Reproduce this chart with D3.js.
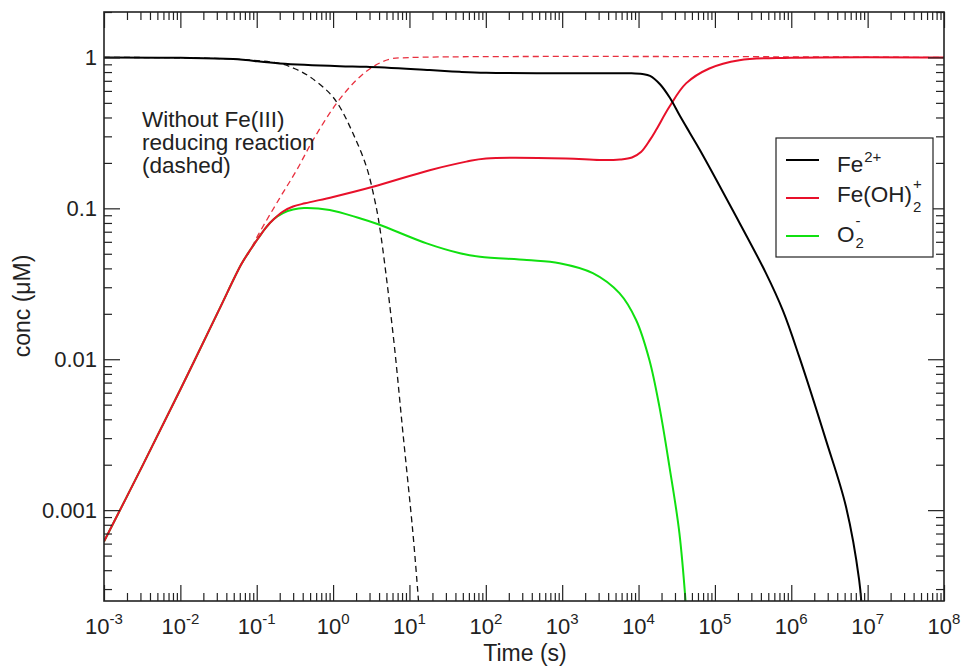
<!DOCTYPE html>
<html><head><meta charset="utf-8">
<script src="https://cdn.jsdelivr.net/npm/d3@7"></script>
<style>
html,body{margin:0;padding:0;background:#fff;}
svg{display:block;font-family:"Liberation Sans",Arial,Helvetica,sans-serif;}
</style></head><body>
<svg id="chart" width="962" height="666"></svg>
<script>
// ---------- data ----------
const xMajorTicks = [1e-3,1e-2,1e-1,1e0,1e1,1e2,1e3,1e4,1e5,1e6,1e7,1e8];
const xTickExponents = ["-3","-2","-1","0","1","2","3","4","5","6","7","8"];
const yMajorTicks = [0.001,0.01,0.1,1];
const yTickLabels = ["0.001","0.01","0.1","1"];

// Fe2+ (black solid)
const fe2Time = [0.001,0.01,0.049,0.2,1.22,2.73,18.4,45.4,101,1000,7940,11200,14130,19100,25820,34910,47210,63830,170600,465600,780000,1.27e6,2.84e6,5.19e6,7.74e6,8.5e6];
const fe2Conc = [1.0,0.995,0.975,0.912,0.875,0.867,0.824,0.803,0.791,0.785,0.785,0.776,0.755,0.664,0.538,0.409,0.315,0.243,0.0975,0.0372,0.0209,0.0104,0.00292,0.00106,3.45e-4,2.0e-4];

// Fe(OH)2+ (red solid)
const feohTime = [0.001,0.00316,0.01,0.0316,0.063,0.0817,0.104,0.132,0.168,0.221,0.299,0.429,1.0,3.33,18.4,55.5,101,1120,3090,5710,8200,10770,14120,16940,25350,41880,84530,208900,1e6,1e8];
const feohConc = [6.2e-4,1.95e-3,6.3e-3,0.0209,0.0427,0.0527,0.0631,0.0746,0.0849,0.0953,0.1028,0.108,0.119,0.139,0.179,0.204,0.214,0.214,0.209,0.2106,0.2172,0.236,0.284,0.33,0.471,0.673,0.845,0.959,0.995,1.0];

// O2- (green solid)
const o2Time = [0.001,0.00316,0.01,0.0316,0.063,0.0817,0.104,0.132,0.168,0.221,0.299,0.416,0.904,2.24,3.89,16.8,45.9,83.9,344,923,2520,5620,9290,13870,18750,25350,34280,42660];
const o2Conc = [6.2e-4,1.95e-3,6.3e-3,0.0209,0.0427,0.0527,0.0631,0.0746,0.0849,0.0931,0.0982,0.1005,0.0975,0.0859,0.0785,0.0586,0.0504,0.0478,0.0454,0.0433,0.0372,0.0274,0.0182,0.00989,0.00485,0.00195,7.05e-4,2.0e-4];

// Without Fe(III) reducing reaction (dashed)
const fe2NoRedTime = [0.001,0.049,0.2,0.316,0.495,0.904,1.22,1.82,2.73,3.51,4.07,6.08,8.22,11.1,12.9,13.8];
const fe2NoRedConc = [1.0,0.975,0.912,0.841,0.745,0.578,0.471,0.314,0.189,0.1135,0.0755,0.0149,0.00324,7.05e-4,2.82e-4,1.78e-4];
const feohNoRedTime = [0.001,0.00316,0.01,0.0316,0.063,0.0817,0.104,0.2,0.331,0.55,1.107,2.02,3.33,5.51,10,1e8];
const feohNoRedConc = [6.2e-4,1.95e-3,6.3e-3,0.0209,0.0427,0.0527,0.0664,0.117,0.178,0.285,0.495,0.708,0.867,0.973,0.998,1.0];

const annotationLines = ["Without Fe(III)","reducing reaction","(dashed)"];

// ---------- layout ----------
const L=104, R=944, T=12, B=601;
const svg = d3.select("#chart");
const x = d3.scaleLog().domain([1e-3,1e8]).range([L,R]);
const y = d3.scaleLog().domain([2.5e-4,2]).range([B,T]);

function minorTicks(lo, hi){
  const out=[];
  for(let e=Math.floor(Math.log10(lo)); e<=Math.ceil(Math.log10(hi)); e++){
    for(let k=2;k<=9;k++){const v=k*Math.pow(10,e); if(v>=lo*0.999 && v<=hi*1.001) out.push(v);}
  }
  return out;
}
const xMinor = minorTicks(1e-3,1e8);
const yMinor = minorTicks(2.5e-4,2);

svg.append("rect").attr("x",0).attr("y",0).attr("width",962).attr("height",666).attr("fill","#fff");

svg.append("defs").append("clipPath").attr("id","clip")
  .append("rect").attr("x",L).attr("y",T).attr("width",R-L).attr("height",B-T);

const line = (xs,ys)=> d3.line().curve(d3.curveCatmullRom.alpha(0.5))
  .x((d,i)=>x(xs[i])).y((d,i)=>y(ys[i]))(xs);

const plot = svg.append("g").attr("clip-path","url(#clip)");
const series = [
  {t:feohNoRedTime,c:feohNoRedConc,color:"#e8303f",w:1.3,dash:"6,4"},
  {t:fe2NoRedTime,c:fe2NoRedConc,color:"#111",w:1.3,dash:"6,4"},
  {t:o2Time,c:o2Conc,color:"#10e010",w:2,dash:null},
  {t:feohTime,c:feohConc,color:"#e8102a",w:2,dash:null},
  {t:fe2Time,c:fe2Conc,color:"#000",w:2,dash:null}
];
series.forEach(s=>{
  plot.append("path").attr("d",line(s.t,s.c)).attr("fill","none")
    .attr("stroke",s.color).attr("stroke-width",s.w)
    .attr("stroke-dasharray",s.dash);
});

// axes (ticks inward)
function styleAxis(g){ g.select(".domain").remove(); g.selectAll("line").attr("stroke","#222").attr("stroke-width",1.2); g.selectAll("text").remove(); }
const MAJ=16, MIN=8;
svg.append("g").attr("transform",`translate(0,${B})`).call(d3.axisBottom(x).tickValues(xMajorTicks).tickSizeInner(-MAJ).tickSizeOuter(0)).call(styleAxis);
svg.append("g").attr("transform",`translate(0,${B})`).call(d3.axisBottom(x).tickValues(xMinor).tickSizeInner(-MIN).tickSizeOuter(0)).call(styleAxis);
svg.append("g").attr("transform",`translate(0,${T})`).call(d3.axisTop(x).tickValues(xMajorTicks).tickSizeInner(-MAJ).tickSizeOuter(0)).call(styleAxis);
svg.append("g").attr("transform",`translate(0,${T})`).call(d3.axisTop(x).tickValues(xMinor).tickSizeInner(-MIN).tickSizeOuter(0)).call(styleAxis);
svg.append("g").attr("transform",`translate(${L},0)`).call(d3.axisLeft(y).tickValues(yMajorTicks).tickSizeInner(-MAJ).tickSizeOuter(0)).call(styleAxis);
svg.append("g").attr("transform",`translate(${L},0)`).call(d3.axisLeft(y).tickValues(yMinor).tickSizeInner(-MIN).tickSizeOuter(0)).call(styleAxis);
svg.append("g").attr("transform",`translate(${R},0)`).call(d3.axisRight(y).tickValues(yMajorTicks).tickSizeInner(-MAJ).tickSizeOuter(0)).call(styleAxis);
svg.append("g").attr("transform",`translate(${R},0)`).call(d3.axisRight(y).tickValues(yMinor).tickSizeInner(-MIN).tickSizeOuter(0)).call(styleAxis);

// frame
svg.append("rect").attr("x",L).attr("y",T).attr("width",R-L).attr("height",B-T)
  .attr("fill","none").attr("stroke","#222").attr("stroke-width",1.6);

// tick labels
xMajorTicks.forEach((v,i)=>{
  const t = svg.append("text").attr("x",x(v)).attr("y",634).attr("text-anchor","middle")
    .attr("font-size",22).attr("fill","#222");
  t.append("tspan").text("10");
  t.append("tspan").attr("dy",-10).attr("font-size",15).text(xTickExponents[i]);
});
yMajorTicks.forEach((v,i)=>{
  svg.append("text").attr("x",97).attr("y",y(v)+7.5).attr("text-anchor","end")
    .attr("font-size",22).attr("fill","#222").text(yTickLabels[i]);
});

// axis titles
svg.append("text").attr("x",525).attr("y",661).attr("text-anchor","middle")
  .attr("font-size",23).attr("fill","#222").text("Time (s)");
svg.append("text").attr("transform","translate(30,306) rotate(-90)").attr("text-anchor","middle")
  .attr("font-size",23).attr("fill","#222").text("conc (μM)");

// annotation
annotationLines.forEach((s,i)=>{
  svg.append("text").attr("x",142).attr("y",127+i*23).attr("font-size",22.5).attr("fill","#222").text(s);
});

// legend
const legendLabels = ["Fe","Fe(OH)","O"];
const legendSup = ["2+","+","-"];
const legendSub = ["","2","2"];
const legendColors = ["#000","#e8102a","#10e010"];
const legendLineY = [160,198,236];
const legendBase = [171.7,202,242];
const legendSupY = [162,189,226];
const legendSubY = [0,212,248];
svg.append("rect").attr("x",776).attr("y",138).attr("width",157).attr("height",119)
  .attr("fill","#fff").attr("stroke","#222").attr("stroke-width",1.2);
legendLabels.forEach((lab,i)=>{
  svg.append("line").attr("x1",786).attr("x2",819).attr("y1",legendLineY[i]).attr("y2",legendLineY[i])
    .attr("stroke",legendColors[i]).attr("stroke-width",2);
  const base = svg.append("text").attr("x",837).attr("y",legendBase[i]).attr("font-size",22.5).attr("fill","#222").text(lab);
  const w = base.node().getComputedTextLength();
  svg.append("text").attr("x",837+w+1).attr("y",legendSupY[i]).attr("font-size",15).attr("fill","#222").text(legendSup[i]);
  if(legendSub[i]) svg.append("text").attr("x",837+w+1).attr("y",legendSubY[i]).attr("font-size",15).attr("fill","#222").text(legendSub[i]);
});
</script>
</body></html>
